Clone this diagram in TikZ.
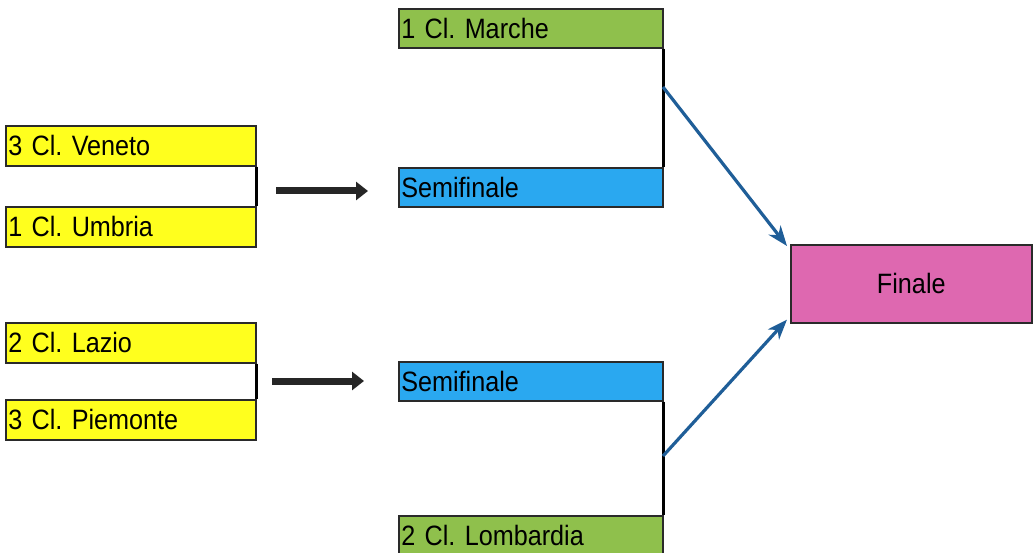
\documentclass[tikz,border=0pt]{standalone}
\usepackage{fontspec}
\setmainfont[FakeStretch=0.9]{Liberation Sans}
\usetikzlibrary{arrows.meta}
\definecolor{cyel}{HTML}{FFFF1E}
\definecolor{cgreen}{HTML}{8FC04C}
\definecolor{cblue}{HTML}{2AA8F0}
\definecolor{cpink}{HTML}{DE68B0}
\definecolor{carrow}{HTML}{1F5E98}
\definecolor{cborder}{HTML}{2A2A2A}
\frenchspacing
\newcommand{\boxfont}{\fontsize{28}{28}\selectfont\frenchspacing\spaceskip=4pt\relax}
\begin{document}
\begin{tikzpicture}[x=1pt,y=-1pt,
  box/.style={draw=cborder,line width=1.6pt,rectangle,anchor=north west,inner ysep=0pt,inner xsep=2.5pt,
    font=\boxfont,align=left},
  leftbox/.style={box,fill=cyel,minimum height=40pt,text width=245pt},
  midbox/.style={box,minimum height=39pt,text width=259pt},
  link/.style={line width=2.8pt,black},
  bigarrow/.style={line width=7pt,draw=black!85,-{Triangle[length=12pt,width=18pt]}},
  bluearrow/.style={line width=3.2pt,draw=carrow,-{Stealth[length=20pt,width=15pt,inset=6pt]}}]
\useasboundingbox (0,0) rectangle (1033,553);
\fill[white] (0,0) rectangle (1033,553);
% left column
\node[leftbox] (ven) at (5,125) {3 Cl. Veneto};
\node[leftbox] (umb) at (5,206) {1 Cl. Umbria};
\node[leftbox] (laz) at (5,322) {2 Cl. Lazio};
\node[leftbox] (pie) at (5,399) {3 Cl. Piemonte};
% middle column
\node[midbox,fill=cgreen] (mar) at (398,8) {1 Cl. Marche};
\node[midbox,fill=cblue] (sf1) at (398,167) {Semifinale};
\node[midbox,fill=cblue] (sf2) at (398,361) {Semifinale};
\node[midbox,fill=cgreen,minimum height=40pt] (lom) at (398,515) {2 Cl. Lombardia};
% final
\node[draw=cborder,line width=1.6pt,fill=cpink,anchor=north west,minimum width=241pt,minimum height=78pt,
  font=\boxfont] (fin) at (790,244) {Finale};
% bracket links
\draw[link] (ven.south east) -- (umb.north east);
\draw[link] (laz.south east) -- (pie.north east);
\draw[link] (mar.south east) -- (sf1.north east);
\draw[link] (sf2.south east) -- (lom.north east);
% black arrows
\coordinate (a1s) at (276,191);
\coordinate (a1e) at (368,191);
\coordinate (a2s) at (272,381);
\coordinate (a2e) at (364,381);
\draw[bigarrow] (a1s) -- (a1e);
\draw[bigarrow] (a2s) -- (a2e);
% blue arrows
\coordinate (b1s) at (663,87);
\coordinate (b2s) at (663,456);
\draw[bluearrow] (b1s) -- ([xshift=-3pt,yshift=-2pt]fin.north west);
\draw[bluearrow] (b2s) -- ([xshift=-3pt,yshift=4pt]fin.south west);
\end{tikzpicture}
\end{document}
